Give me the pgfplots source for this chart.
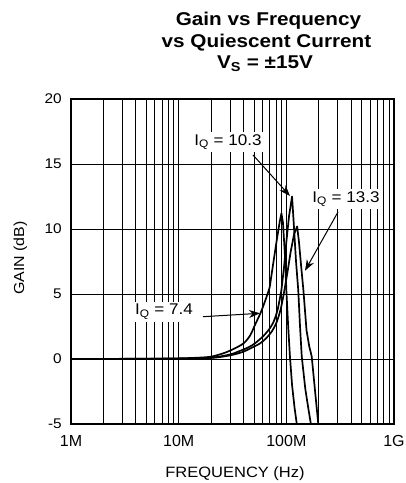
\documentclass[border=0pt]{standalone}
\usepackage{fontspec}
\setmainfont{Liberation Sans}[FakeStretch=1.1]
\newfontfamily\plainfont{Liberation Sans}
\newfontfamily\titlefont{Liberation Sans}[FakeStretch=1.12]
\usepackage{pgfplots}
\pgfplotsset{compat=1.18}
\usetikzlibrary{arrows.meta}
\begin{document}
\begin{tikzpicture}
\path[use as bounding box] (0bp,0bp) rectangle (406bp,483bp);
\begin{axis}[
 at={(71bp,59bp)}, anchor=south west,
 width=323bp, height=325bp, scale only axis,
 xmode=log, xmin=1e6, xmax=1e9, ymin=-5, ymax=20,
 xtick={1e6,1e7,1e8,1e9}, xticklabels={1M,10M,100M,1G},
 minor xtick={2e6,3e6,4e6,5e6,6e6,7e6,8e6,9e6,2e7,3e7,4e7,5e7,6e7,7e7,8e7,9e7,2e8,3e8,4e8,5e8,6e8,7e8,8e8,9e8},
 ytick={-5,0,5,10,15,20}, yticklabels={-5,0,5,10,15,20},
 grid=both,
 major grid style={black, line width=0.8bp},
 minor grid style={black, line width=0.8bp},
 axis line style={black, line width=1.2bp},
 major tick length=0pt, minor tick length=0pt,
 xticklabel style={font=\plainfont\fontsize{16bp}{18bp}\selectfont, anchor=north, inner sep=0pt, yshift=-11bp},
 yticklabel style={font=\fontsize{14bp}{16bp}\selectfont, anchor=east, inner sep=0pt, xshift=-9bp},
 clip=true,
 curve/.style={black, solid, mark=none, line width=1.7bp, line join=round},
]
% I_Q = 7.4  (rising knee smooth, peak region straight)
\addplot[curve, smooth, tension=0.5] coordinates {
(1e6,0) (5e6,0.02) (1e7,0.05) (1.5e7,0.1) (2e7,0.18) (2.6e7,0.44) (3.2e7,0.75)
(4e7,1.2) (4.6e7,1.8) (5.1e7,2.6) (5.8e7,3.6) (6.5e7,4.7) (7e7,5.5)};
\addplot[curve] coordinates {
(7e7,5.5) (7.6e7,7.5) (8.2e7,9.3) (8.7e7,10.6) (9.0e7,11.2) (9.3e7,10.5) (9.7e7,8.0) (1.0e8,5.3)
(1.04e8,2.5) (1.08e8,0.2) (1.13e8,-2) (1.19e8,-3.7) (1.25e8,-5)};
% I_Q = 10.3
\addplot[curve, smooth, tension=0.5] coordinates {
(1e6,0) (1e7,0.03) (2e7,0.1) (3e7,0.35) (3.7e7,0.62) (4.5e7,0.92) (5.1e7,1.2)
(6e7,1.7) (6.8e7,2.2) (7.6e7,2.85) (8.3e7,3.8) (9.0e7,5.3)};
\addplot[curve] coordinates {
(9.0e7,5.3) (9.5e7,7) (1.0e8,9)
(1.06e8,11) (1.13e8,12.5) (1.17e8,10.5) (1.23e8,7.5) (1.29e8,5.3) (1.34e8,2.5)
(1.39e8,0.2) (1.5e8,-2.3) (1.6e8,-3.8) (1.69e8,-5)};
% I_Q = 13.3
\addplot[curve, smooth, tension=0.5] coordinates {
(1e6,0) (1e7,0.02) (2e7,0.08) (3e7,0.28) (3.95e7,0.55) (4.8e7,0.88) (5.7e7,1.2)
(6.5e7,1.6) (7.3e7,2.1) (8.1e7,2.8) (8.9e7,3.9) (9.6e7,5.3)};
\addplot[curve] coordinates {
(9.6e7,5.3) (1.03e8,6.8)
(1.1e8,8.3) (1.18e8,9.6) (1.26e8,10.2) (1.31e8,9.0) (1.37e8,7.2) (1.44e8,5.3)
(1.54e8,2.2) (1.63e8,1.0) (1.72e8,0.2) (1.85e8,-2.5) (1.98e8,-5)};
\end{axis}
% annotations
\begin{scope}[every node/.style={font=\fontsize{15.5bp}{18bp}\selectfont, fill=white, inner sep=2bp}]
\node at (228bp,341bp) {I\textsubscript{Q} = 10.3};
\node at (346bp,284bp) {I\textsubscript{Q} = 13.3};
\node at (164bp,171bp) {I\textsubscript{Q} = 7.4};
\end{scope}
\draw[line width=1bp, -{Stealth[length=11bp, width=8bp]}] (253bp,328bp) -- (290bp,287bp);
\draw[line width=1bp, -{Stealth[length=11bp, width=8bp]}] (338bp,271bp) -- (305bp,212.3bp);
\draw[line width=1bp, -{Stealth[length=11bp, width=8bp]}] (203bp,166.3bp) -- (260bp,169.7bp);
% title
\begin{scope}[every node/.style={font=\titlefont\bfseries\fontsize{18.5bp}{20bp}\selectfont, anchor=base, inner sep=0pt}]
\node at (268.5bp,457.3bp) {Gain vs Frequency};
\node at (266.5bp,435.3bp) {vs Quiescent Current};
\node at (265bp,414.7bp) {V\textsubscript{S} = ±15V};
\end{scope}
% axis labels
\node[font=\fontsize{15bp}{18bp}\selectfont, anchor=base, inner sep=0pt] at (235bp,6bp) {FREQUENCY (Hz)};
\node[font=\fontsize{14.5bp}{18bp}\selectfont, anchor=base, inner sep=0pt, rotate=90] at (24bp,225bp) {GAIN (dB)};
\end{tikzpicture}
\end{document}
